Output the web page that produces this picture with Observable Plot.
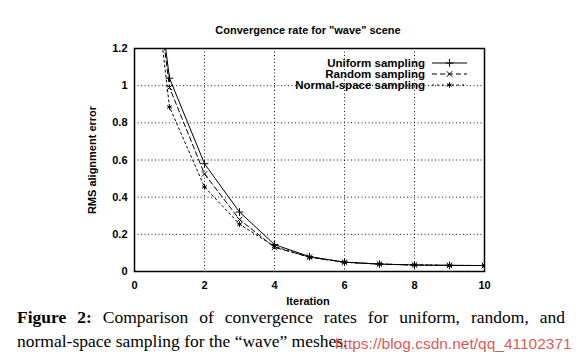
<!DOCTYPE html>
<html>
<head>
<meta charset="utf-8">
<script src="https://cdn.jsdelivr.net/npm/d3@7"></script>
<script src="https://cdn.jsdelivr.net/npm/@observablehq/plot@0.6"></script>
<style>
  html, body { margin: 0; padding: 0; background: #fff; }
  #wrap { position: relative; width: 588px; height: 362px; overflow: hidden; font-family: "Liberation Sans", Arial, sans-serif; }
  #chart { position: absolute; left: 0; top: 0; }
  .lbl { position: absolute; font-weight: bold; font-size: 11px; color: #000; white-space: nowrap; }
  .cap { position: absolute; font-family: "Liberation Serif", "Times New Roman", serif; font-size: 17.5px; color: #000; white-space: nowrap; }
  #legend { position: absolute; left: 200px; width: 267px; top: 57px; font-weight: bold; font-size: 11.5px; }
  #legend .row { display: flex; justify-content: flex-end; align-items: center; height: 11.3px; }
  #legend svg { margin-left: 7px; }
</style>
</head>
<body>
<div id="wrap">
  <div id="chart"></div>
  <div class="lbl" style="width:588px;text-align:center;left:14px;top:24px;">Convergence rate for "wave" scene</div>
  <div class="lbl" style="left:0;width:616px;text-align:center;top:295px;">Iteration</div>
  <div class="lbl" style="left:92px;top:160px;transform:translate(-50%,-50%) rotate(-90deg);">RMS alignment error</div>
  <div id="legend"></div>
  <div class="cap" style="left:17px;top:307px;width:548px;text-align:justify;text-align-last:justify;"><b>Figure 2:</b> Comparison of convergence rates for uniform, random, and</div>
  <div class="cap" style="left:17px;top:331px;">normal-space sampling for the “wave” meshes.</div>
  <div style="position:absolute;left:335px;top:335px;font-family:'Liberation Sans',Arial,sans-serif;font-size:15.5px;color:rgba(225,50,50,0.85);white-space:nowrap;">https://blog.csdn.net/qq_41102371</div>
</div>
<script>
const iterations = [0, 1, 2, 3, 4, 5, 6, 7, 8, 9, 10];
const uniform = [2.5, 1.04, 0.58, 0.32, 0.145, 0.08, 0.05, 0.04, 0.035, 0.033, 0.032];
const random  = [2.5, 0.99, 0.525, 0.28, 0.13, 0.078, 0.05, 0.04, 0.035, 0.033, 0.032];
const normal  = [2.5, 0.885, 0.455, 0.255, 0.135, 0.076, 0.05, 0.04, 0.035, 0.033, 0.032];
const seriesNames = ["Uniform sampling", "Random sampling", "Normal-space sampling"];
const xTicks = [0, 2, 4, 6, 8, 10];
const yTicks = [0, 0.2, 0.4, 0.6, 0.8, 1, 1.2];

const styles = [
  {dash: null, symbol: "plus"},
  {dash: "5,3", symbol: "times"},
  {dash: "2,3", symbol: "asterisk"}
];
const values = [uniform, random, normal];
const series = seriesNames.map((name, i) => ({
  name, style: styles[i],
  data: iterations.map((x, j) => ({x, y: values[i][j]}))
}));

const marks = [
  Plot.gridX(xTicks.slice(1, -1), {stroke: "#000", strokeOpacity: 0.9, strokeDasharray: "1,2.5"}),
  Plot.gridY(yTicks.slice(1, -1), {stroke: "#000", strokeOpacity: 0.9, strokeDasharray: "1,2.5"}),
  Plot.axisX(xTicks, {tickSize: 0, tickPadding: 10, fontSize: 11, fontWeight: "bold", label: null, tickFormat: d => String(d)}),
  Plot.axisY(yTicks, {tickSize: 0, tickPadding: 7, fontSize: 11, fontWeight: "bold", label: null, tickFormat: d => String(d)}),
];
for (const s of series) {
  marks.push(Plot.line(s.data, {x: "x", y: "y", stroke: "#000", strokeWidth: 1, strokeDasharray: s.style.dash, clip: true}));
  marks.push(Plot.dot(s.data, {x: "x", y: "y", symbol: s.style.symbol, r: 2.6, stroke: "#000", strokeWidth: 1, fill: "none", clip: true}));
}
marks.push(Plot.frame({stroke: "#000", strokeWidth: 1.5}));

const chart = Plot.plot({
  width: 588, height: 362,
  marginLeft: 134, marginRight: 104, marginTop: 48, marginBottom: 91,
  x: {domain: [0, 10]},
  y: {domain: [0, 1.2]},
  style: {fontFamily: "Liberation Sans, Arial, sans-serif", color: "#000", background: "transparent"},
  marks
});
document.getElementById("chart").appendChild(chart);

// legend
const symMap = {plus: d3.symbolPlus, times: d3.symbolTimes, asterisk: d3.symbolAsterisk};
const leg = document.getElementById("legend");
series.forEach(s => {
  const row = document.createElement("div");
  row.className = "row";
  const t = document.createElement("span");
  t.textContent = s.name;
  row.appendChild(t);
  const svg = d3.create("svg").attr("width", 35).attr("height", 10);
  svg.append("line").attr("x1", 0).attr("x2", 35).attr("y1", 5).attr("y2", 5)
    .attr("stroke", "#000").attr("stroke-dasharray", s.style.dash);
  svg.append("path").attr("transform", "translate(17.5,5)")
    .attr("d", d3.symbol(symMap[s.style.symbol], 2.6 * 2.6 * Math.PI)())
    .attr("fill", "none").attr("stroke", "#000");
  row.appendChild(svg.node());
  leg.appendChild(row);
});
</script>
</body>
</html>
